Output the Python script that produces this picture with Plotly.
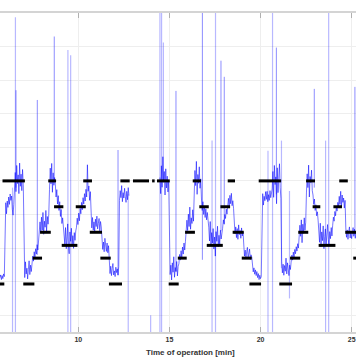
import numpy as np
import plotly.graph_objects as go

# ---------------- data ----------------
# sampled signal, stretch 1 (starts 5.70 min, 0.04 min step)
sig1_t0 = 5.70
sig1 = [11.2, 12.0, 10.6, 11.8, 10.9, 12.3, 11.5,
        31.0, 33.5, 30.2, 34.0, 32.1, 35.2, 33.0, 36.1, 34.2, 35.5,
        31.5, 29.8, 33.0,
        38.0, 42.5, 36.8, 44.6, 39.2, 41.8, 36.2, 45.3, 38.4, 42.0, 37.1, 43.4, 39.0,
        14.8, 11.2, 15.9, 12.3, 14.0, 10.8, 13.6, 16.2, 12.1, 14.9, 13.0,
        15.2, 17.6, 16.1, 18.9, 17.3, 19.8, 18.2, 21.0, 19.4, 21.8,
        23.5, 27.8, 24.6, 29.2, 25.3, 30.6, 24.1, 28.0, 26.2, 31.2, 25.0, 29.4, 27.1, 30.0,
        37.5, 43.8, 39.1, 45.2, 36.6, 42.4, 38.7, 41.0,
        39.0, 35.2, 37.4, 33.1, 35.6, 31.2, 33.8, 29.4, 31.5, 27.3, 29.0, 25.6,
        24.0, 21.2, 26.1, 19.8, 23.5, 27.2, 20.4, 18.3, 24.8, 22.0, 25.9, 21.1, 23.7, 19.9, 24.6, 22.3, 25.1,
        26.2, 28.9, 27.0, 30.4, 28.1, 31.8, 30.2, 33.6, 31.4, 35.0, 33.1, 36.2, 34.0, 37.5, 35.2, 44.8, 36.9,
        38.5, 34.2, 36.8,
        28.2, 26.0, 29.1, 25.3, 27.8, 24.9, 28.6, 26.4, 29.5, 25.7, 27.3, 28.8, 25.1, 27.9, 26.3,
        22.4, 19.6, 21.8, 18.9, 22.9, 20.1, 19.0, 21.5, 18.6, 20.7,
        15.1, 12.4, 14.6, 11.8, 13.9, 15.4, 12.0, 13.2, 11.5, 14.3, 12.7, 13.8, 11.9, 14.5,
        34.2, 37.1, 35.0, 38.6, 33.8, 36.5, 34.9, 37.8, 35.3, 33.6, 36.9, 34.4, 38.0, 35.6]

# sampled signal, stretch 2 (starts 14.48 min, 0.04 min step)
sig2_t0 = 14.48
sig2 = [41.0, 36.2, 44.5, 38.1, 47.2, 39.6, 42.8, 35.8, 43.6, 37.9, 41.4, 36.7, 40.2,
        16.8, 12.1, 14.9, 10.5, 15.6, 12.8, 17.4, 11.3, 14.2, 13.0, 16.0, 11.7, 14.6,
        15.3, 18.1, 16.4, 19.2, 17.0, 20.3, 18.2, 21.5, 19.4, 22.0,
        24.1, 28.3, 25.2, 30.1, 26.4, 32.2, 25.6, 29.0, 27.3, 31.4, 28.0,
        37.2, 43.1, 38.6, 45.8, 36.0, 41.9, 39.3, 44.2, 37.8, 40.6,
        34.6, 31.2, 33.8, 30.0, 32.5, 29.1, 31.7, 28.4, 30.6, 28.9,
        26.2, 22.1, 27.9, 20.8, 24.6, 21.5, 25.8, 19.7, 23.3, 17.6, 24.9, 22.0, 26.5, 20.4, 23.8, 21.2, 25.3, 22.7, 24.1,
        25.9, 28.4, 27.2, 30.0, 28.8, 31.6, 30.1,
        32.4, 34.8, 31.9, 35.7, 33.2, 36.3, 32.6, 34.1, 31.8,
        27.0, 24.2, 26.3, 23.1, 25.8, 22.6, 26.9, 24.0, 25.2, 22.9, 26.0, 23.6, 24.8,
        20.1, 17.6, 19.4, 16.8, 18.9, 20.2, 17.1, 18.4, 19.7, 16.6, 18.0, 17.3,
        14.6, 12.9, 14.1, 12.2, 13.5, 11.8, 13.0, 11.2, 12.4, 10.6, 11.9, 10.9, 11.5,
        33.0, 36.2, 32.8, 35.4, 34.1, 36.8,
        34.5, 36.9, 33.8, 35.9, 34.2, 37.1, 35.0, 36.3,
        37.6, 42.8, 35.1, 44.6, 38.9, 41.2, 33.2, 43.9, 36.5, 40.7, 45.1, 38.0, 34.8,
        16.1, 12.6, 15.2, 11.9, 14.8, 13.1, 17.0, 12.3, 15.6, 13.4, 11.8, 14.9, 13.6,
        15.8, 17.9, 16.4, 18.8, 17.2, 19.6, 18.3, 20.4, 19.1, 21.3, 20.0,
        22.3, 26.8, 23.5, 28.4, 21.6, 27.1, 24.4, 29.0, 25.3, 27.7,
        36.4, 42.1, 38.0, 44.7, 35.2, 41.3, 39.5, 43.2, 37.1,
        35.8, 33.0, 34.6, 31.2, 32.9, 29.6, 30.8, 28.3,
        25.9, 21.7, 27.4, 20.3, 24.8, 22.2, 26.6, 19.8, 23.4, 25.7, 21.0, 24.2, 27.0, 22.5, 20.6, 24.9, 22.8, 26.1, 23.6,
        26.8, 29.2, 28.0, 30.9, 29.6, 32.4, 31.0, 33.6,
        32.5, 35.4, 33.0, 36.9, 32.2, 35.8, 33.6, 34.9, 31.9, 34.2,
        26.0, 23.2, 25.4, 22.6, 24.9, 26.3, 23.0, 25.1, 22.8, 24.4, 26.1, 23.5, 25.6, 22.9, 24.7, 23.8]
sig_dt = 0.04

# isolated spikes: time, top value, bottom value
spike_light_t = [6.39, 6.55, 9.43, 9.58, 12.74, 13.97, 14.48, 14.57, 14.67, 17.34, 17.53,
                 20.41, 20.66, 21.15, 21.59, 23.57, 23.74]
spike_light_top = [38, 88.7, 79, 77.4, 36, 0, 95, 95, 81.2, 52, 95, 49, 95, 52, 37, 52, 95]
spike_light_bot = [-8, -8, -8, -8, -8, -8, -8, -8, 40, -8, -8, -8, -8, 14, 5, -8, -8]

spike_dark_t = [6.58, 7.75, 8.68, 12.18, 15.36, 16.81, 17.83, 18.01, 20.87, 22.95, 25.18]
spike_dark_top = [67, 64.1, 83, 49.2, 66.8, 95, 75.8, 71, 79.7, 67.4, 68]
spike_dark_bot = [38, 18, 40, 12, 13, 16.5, 25, 27, 36, 38, 24]

# set-point steps (black)
seg_start = [5.70, 5.84, 6.98, 7.50, 7.90, 8.35, 8.67, 9.09, 9.86, 10.27,
             10.63, 11.21, 11.68, 12.31, 13.00, 14.05, 14.32, 14.96, 15.46, 15.86,
             16.28, 16.64, 17.05, 17.80, 18.20, 18.47, 18.97, 19.39, 19.90, 21.03,
             21.62, 22.07, 22.50, 22.86, 23.19, 24.00, 24.32, 24.65, 25.09]
seg_end = [5.94, 7.07, 7.59, 8.01, 8.49, 8.78, 9.18, 9.95, 10.41, 10.75,
           11.30, 11.78, 12.40, 12.82, 13.88, 14.19, 15.02, 15.51, 15.95, 16.40,
           16.73, 17.16, 17.93, 18.33, 18.60, 19.08, 19.52, 20.03, 21.13, 21.73,
           22.18, 22.62, 22.99, 23.28, 24.11, 24.47, 24.79, 25.30, 25.30]
seg_level = [9.3, 40.0, 9.3, 17.0, 24.7, 40.0, 32.3, 20.8, 32.3, 40.0,
             24.7, 17.0, 9.3, 40.0, 40.0, 40.0, 40.0, 9.3, 17.0, 24.7,
             40.0, 32.3, 20.8, 32.3, 40.0, 24.7, 17.0, 9.3, 40.0, 9.3,
             17.0, 24.7, 40.0, 32.3, 20.8, 32.3, 40.0, 24.7, 17.0]

x_ticks = [10, 15, 20, 25]
x_title = "Time of operation [min]"

# ---------------- figure ----------------
t1 = sig1_t0 + sig_dt * np.arange(len(sig1))
t2 = sig2_t0 + sig_dt * np.arange(len(sig2))
sx = list(t1) + [None] + list(t2)
sy = list(sig1) + [None] + list(sig2)


def vsegs(ts, tops, bots):
    xs, ys = [], []
    for t, a, b in zip(ts, tops, bots):
        xs += [t, t, None]
        ys += [a, b, None]
    return xs, ys


def hsegs(s, e, lv):
    xs, ys = [], []
    for a, b, v in zip(s, e, lv):
        xs += [a, b, None]
        ys += [v, v, None]
    return xs, ys


fig = go.Figure()
lx, ly = vsegs(spike_light_t, spike_light_top, spike_light_bot)
fig.add_trace(go.Scatter(x=lx, y=ly, mode="lines",
                         line=dict(color="rgba(0,0,255,0.28)", width=1.2),
                         hoverinfo="skip", showlegend=False))
dx, dy = vsegs(spike_dark_t, spike_dark_top, spike_dark_bot)
fig.add_trace(go.Scatter(x=dx, y=dy, mode="lines",
                         line=dict(color="rgba(0,0,255,0.45)", width=1),
                         hoverinfo="skip", showlegend=False))
fig.add_trace(go.Scatter(x=sx, y=sy, mode="lines",
                         line=dict(color="rgba(0,0,255,0.68)", width=0.8),
                         hoverinfo="skip", showlegend=False))
hx, hy = hsegs(seg_start, seg_end, seg_level)
fig.add_trace(go.Scatter(x=hx, y=hy, mode="lines",
                         line=dict(color="black", width=3),
                         hoverinfo="skip", showlegend=False))

fig.update_layout(
    width=356, height=364,
    margin=dict(l=0, r=0, t=13, b=32, autoexpand=False),
    paper_bgcolor="white", plot_bgcolor="white",
    showlegend=False,
    font=dict(family="Liberation Sans, Arial, sans-serif"),
    xaxis=dict(range=[5.703, 25.24], tickvals=x_ticks,
               ticktext=["<b>%d</b>" % v for v in x_ticks],
               showgrid=True, gridcolor="#eeeeee", gridwidth=1,
               zeroline=False, showline=True, linecolor="#d4d4d4", linewidth=2,
               mirror="ticks", ticks="inside", ticklen=5, tickwidth=1,
               tickcolor="#b0b0b0",
               tickfont=dict(size=7, color="#333333")),
    yaxis=dict(range=[-5, 90], tick0=0, dtick=10,
               showgrid=True, gridcolor="#eeeeee", gridwidth=1,
               zeroline=False, showline=False, showticklabels=False,
               ticks=""),
)
fig.add_annotation(text="<b>" + x_title + "</b>", xref="paper", yref="paper",
                   x=190 / 356, y=0, xanchor="center", yanchor="middle",
                   yshift=-20.5, showarrow=False,
                   font=dict(size=8, color="#333333"))

fig.write_html("out.html",
               config={"displayModeBar": False},
               post_script="document.body.style.margin='0px';"
                           "document.body.style.overflow='hidden';")
